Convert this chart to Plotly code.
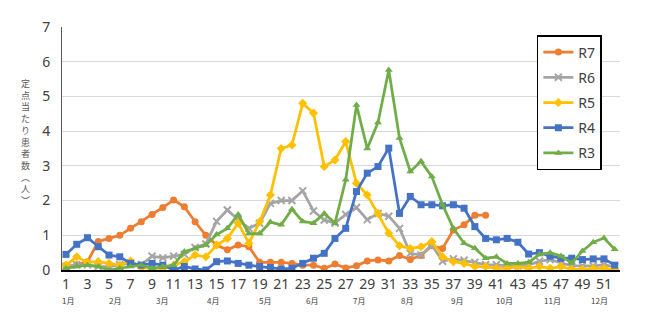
import plotly.graph_objects as go

weeks = list(range(1, 53))

r7 = [0.1, 0.15, 0.24, 0.82, 0.91, 1.0, 1.2, 1.39, 1.6, 1.8, 2.02, 1.82, 1.39, 1.0, 0.72,
      0.58, 0.72, 0.67, 0.22, 0.22, 0.22, 0.19, 0.14, 0.14, 0.05, 0.17, 0.06, 0.12, 0.26, 0.29,
      0.26, 0.42, 0.3, 0.42, 0.7, 0.62, 1.15, 1.3, 1.58, 1.58]
r6 = [0.1, 0.15, 0.15, 0.1, 0.1, 0.15, 0.2, 0.15, 0.4, 0.35, 0.4, 0.45, 0.65, 0.75, 1.4,
      1.73, 1.45, 1.2, 1.35, 1.92, 2.0, 2.0, 2.28, 1.7, 1.44, 1.35, 1.6, 1.8, 1.45, 1.63,
      1.55, 1.2, 0.48, 0.43, 0.72, 0.25, 0.32, 0.28, 0.22, 0.15, 0.15, 0.12, 0.12, 0.15, 0.25,
      0.3, 0.2, 0.12, 0.12, 0.12, 0.15, 0.1]
r5 = [0.14, 0.38, 0.22, 0.24, 0.19, 0.14, 0.26, 0.07, 0.05, 0.05, 0.14, 0.24, 0.43, 0.38, 0.72,
      0.91, 1.35, 0.77, 1.39, 2.16, 3.5, 3.6, 4.8, 4.52, 2.98, 3.17, 3.7, 2.5, 2.16, 1.63,
      1.06, 0.7, 0.62, 0.67, 0.82, 0.38, 0.24, 0.19, 0.1, 0.1, 0.05, 0.05, 0.1, 0.05, 0.1,
      0.05, 0.1, 0.02, 0.02, 0.05, 0.05, 0.02]
r4 = [0.45, 0.74, 0.93, 0.67, 0.43, 0.38, 0.19, 0.14, 0.19, 0.14, 0.0, 0.1, 0.03, 0.0, 0.24,
      0.26, 0.19, 0.14, 0.1, 0.07, 0.03, 0.05, 0.19, 0.34, 0.48, 0.91, 1.2, 2.26, 2.79, 2.98,
      3.51, 1.63, 2.12, 1.88, 1.88, 1.85, 1.88, 1.78, 1.25, 0.91, 0.87, 0.91, 0.8, 0.46, 0.5,
      0.4, 0.34, 0.34, 0.3, 0.32, 0.32, 0.14]
r3 = [0.05, 0.1, 0.14, 0.1, 0.0, 0.05, 0.1, 0.14, 0.05, 0.1, 0.14, 0.53, 0.62, 0.72, 1.02,
      1.2, 1.6, 1.05, 1.05, 1.38, 1.3, 1.75, 1.4, 1.35, 1.63, 1.35, 2.6, 4.75, 3.5, 4.25,
      5.76, 3.8, 2.84, 3.13, 2.69, 1.88, 1.2, 0.77, 0.63, 0.34, 0.38, 0.19, 0.19, 0.22, 0.45,
      0.5, 0.4, 0.2, 0.55, 0.8, 0.92, 0.6]

series_names = ["R7", "R6", "R5", "R4", "R3"]
series_values = [r7, r6, r5, r4, r3]
colors = ["#ED7D31", "#A5A5A5", "#FFC000", "#4472C4", "#70AD47"]
symbols = ["circle", "x-thin", "diamond", "square", "triangle-up"]

month_labels = ["1月", "2月", "3月", "4月", "5月", "6月", "7月", "8月", "9月", "10月", "11月", "12月"]
month_pos = [1.2, 5.55, 9.9, 14.7, 19.5, 23.9, 28.2, 32.7, 37.3, 41.8, 46.2, 50.6]

y_title = "定点当たり患者数︵人︶"

fig = go.Figure()
for name, vals, col, sym in zip(series_names, series_values, colors, symbols):
    marker = dict(symbol=sym, size=7, color=col)
    if sym == "x-thin":
        marker = dict(symbol=sym, size=7, color=col, line=dict(color=col, width=2))
    fig.add_trace(go.Scatter(
        x=weeks[:len(vals)], y=vals, name=name, mode="lines+markers",
        line=dict(color=col, width=2.75), marker=marker, legendgroup=name,
    ))

annotations = []
for lab, pos in zip(month_labels, month_pos):
    annotations.append(dict(x=pos, y=0, xref="x", yref="paper", text=lab, showarrow=False,
                            yshift=-30, yanchor="middle",
                            font=dict(size=8, color="#404040", family="Noto Sans CJK JP")))
annotations.append(dict(x=0, y=(270 - 141.5) / 243, xref="paper", yref="paper",
                        text="<br>".join(y_title), showarrow=False, xshift=-37,
                        xanchor="center", yanchor="middle", align="center",
                        font=dict(size=9, color="#595959", family="Noto Sans CJK JP")))

fig.update_layout(
    width=650, height=318,
    margin=dict(l=62, r=30, t=27, b=48),
    paper_bgcolor="white", plot_bgcolor="white",
    font=dict(family="Noto Sans, Noto Sans CJK JP", color="#595959"),
    showlegend=True,
    legend=dict(x=0.851, y=0.967, xanchor="left", yanchor="top",
                bordercolor="black", borderwidth=1.5, bgcolor="white",
                font=dict(size=14, color="#404040"), tracegroupgap=4,
                itemwidth=30),
    annotations=annotations,
    xaxis=dict(range=[0.63, 52.49], tickmode="linear", tick0=1, dtick=2,
               showgrid=False, zeroline=False, showline=True, linecolor="black",
               linewidth=1.5, ticks="", tickfont=dict(size=14, color="#404040")),
    yaxis=dict(range=[0, 7], dtick=1, showgrid=True, gridcolor="#D9D9D9", gridwidth=1,
               zeroline=False, showline=True, linecolor="#595959", linewidth=1,
               ticks="", ticklabelstandoff=8, tickfont=dict(size=14, color="#404040")),
)

fig.write_html("out.html")
